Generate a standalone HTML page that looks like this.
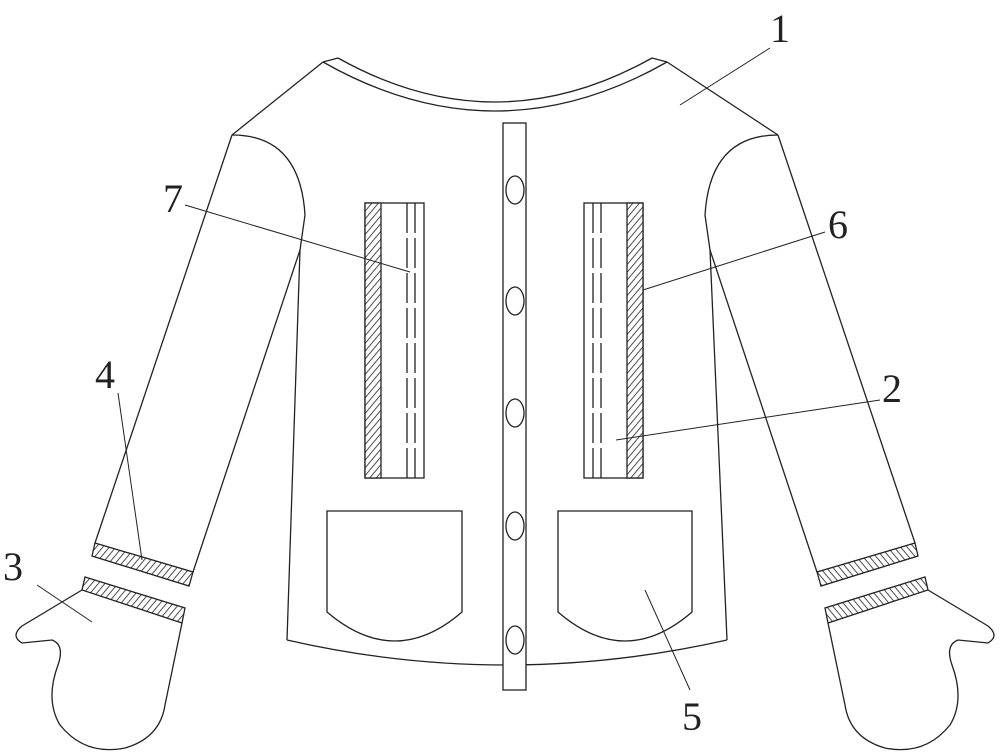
<!DOCTYPE html>
<html><head><meta charset="utf-8"><style>html,body{margin:0;padding:0;background:#fff}svg{display:block}</style></head><body>
<svg width="1000" height="756" viewBox="0 0 1000 756" xmlns="http://www.w3.org/2000/svg">
<defs>
<pattern id="h" width="5" height="5" patternUnits="userSpaceOnUse" patternTransform="rotate(40)">
<rect width="5" height="5" fill="#fff"/><line x1="0" y1="0" x2="0" y2="5" stroke="#222" stroke-width="1.6"/></pattern>
<g id="side" fill="none" stroke="#222" stroke-width="1.3">
<path d="M232,135 Q300,135 305,215 L300,250"/>
<path d="M232,135 L95,543"/>
<path d="M300,250 L193,572"/>
<path d="M95,543 L193,572 L189,586 L92,556 Z" fill="url(#h)"/>
<path d="M85,577 L185,608 L182,623 L82,590 Z" fill="url(#h)"/>
<path d="M82,590 L22,626 Q10,636 22,643 L52,640 Q65,645 58,665 Q45,700 60,725 Q85,756 125,748 Q160,738 165,705 L182,623"/>
</g>
</defs>
<use href="#side"/>
<use href="#side" transform="translate(1010,0) scale(-1,1)"/>
<g fill="none" stroke="#222" stroke-width="1.3">
<path d="M323,62 Q495,160 667,62"/>
<path d="M338,58 Q495,146 652,58"/>
<path d="M323,62 L338,58 M667,62 L652,58"/>
<path d="M323,62 L232,135 M667,62 L778,135"/>
<path d="M300,250 L287,640 M710,250 L727,640"/>
<path d="M287,640 Q505,690 727,640"/>
<rect x="503" y="123" width="23" height="567" fill="#fff"/>
<ellipse cx="515" cy="190" rx="9" ry="14"/>
<ellipse cx="515" cy="301" rx="9" ry="14"/>
<ellipse cx="515" cy="413" rx="9" ry="14"/>
<ellipse cx="515" cy="526" rx="9" ry="14"/>
<ellipse cx="515" cy="640" rx="9" ry="14"/>
<rect x="365" y="203" width="59" height="275"/>
<rect x="365" y="203" width="16" height="275" fill="url(#h)"/>
<rect x="584" y="203" width="59" height="275"/>
<rect x="627" y="203" width="16" height="275" fill="url(#h)"/>
<g stroke-dasharray="30,5">
<line x1="407" y1="203" x2="407" y2="478"/><line x1="415" y1="203" x2="415" y2="478"/>
<line x1="593" y1="203" x2="593" y2="478"/><line x1="601" y1="203" x2="601" y2="478"/>
</g>
<path d="M327,511 L462,511 L462,612 Q395,670 327,612 Z"/>
<path d="M558,511 L692,511 L692,612 Q625,670 558,612 Z"/>
<g stroke-width="1">
<line x1="770" y1="48" x2="680" y2="105"/>
<line x1="185" y1="205" x2="410" y2="272"/>
<line x1="825" y1="232" x2="643" y2="290"/>
<line x1="118" y1="393" x2="142" y2="560"/>
<line x1="880" y1="400" x2="616" y2="440"/>
<line x1="37" y1="585" x2="92" y2="622"/>
<line x1="690" y1="690" x2="645" y2="590"/>
</g>
</g>
<g font-family="Liberation Serif, serif" font-size="40" fill="#222">
<text x="770" y="42">1</text>
<text x="163" y="212">7</text>
<text x="828" y="238">6</text>
<text x="95" y="388">4</text>
<text x="882" y="402">2</text>
<text x="3" y="580">3</text>
<text x="682" y="730">5</text>
</g>
</svg>
</body></html>
